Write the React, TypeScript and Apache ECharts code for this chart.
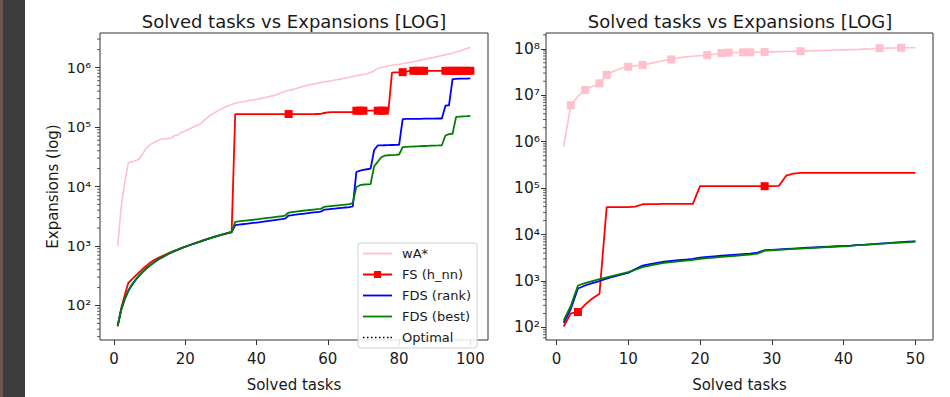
import React, { useEffect, useRef } from "react";
import * as echarts from "echarts";

const FONT = "DejaVu Sans";

// ---------- Left panel (100 tasks) ----------
const leftWa = [
  1000, 4500, 12000, 25000, 26000, 27000, 29000, 35000, 44000, 50000,
  54000, 58000, 62000, 63000, 64000, 65000, 72000, 74000, 82000, 86000,
  92000, 98000, 105000, 110000, 125000, 140000, 158000, 170000, 185000, 200000,
  215000, 228000, 240000, 250000, 258000, 264000, 270000, 278000, 285000, 292000,
  300000, 310000, 320000, 330000, 340000, 355000, 380000, 395000, 410000, 425000,
  440000, 460000, 480000, 500000, 515000, 530000, 545000, 560000, 575000, 585000,
  600000, 615000, 630000, 645000, 665000, 685000, 705000, 725000, 745000, 765000,
  785000, 820000, 880000, 960000, 1000000, 1030000, 1060000, 1090000, 1110000, 1130000,
  1160000, 1190000, 1220000, 1250000, 1290000, 1330000, 1370000, 1410000, 1450000, 1490000,
  1540000, 1590000, 1640000, 1690000, 1740000, 1820000, 1900000, 1990000, 2080000, 2200000,
];
const leftFs = [
  45, 90, 150, 240, 275, 315, 360, 410, 460, 520,
  570, 615, 655, 700, 745, 790, 835, 880, 930, 980,
  1030, 1080, 1130, 1180, 1240, 1300, 1360, 1420, 1480, 1540,
  1600, 1660, 1720, 165000, 165000, 165000, 165000, 165000, 165000, 165000,
  165000, 165000, 165000, 165000, 165000, 165000, 165000, 165000, 165000, 165000,
  165000, 165000, 165000, 165000, 165000, 165000, 165500, 166000, 172000, 176000,
  178000, 178000, 178000, 178000, 178000, 178000, 178000, 188000, 188000, 188000,
  188000, 188000, 188000, 188000, 188000, 188000, 188000, 820000, 830000, 830000,
  835000, 850000, 880000, 880000, 880000, 880000, 880000, 880000, 880000, 880000,
  880000, 880000, 880000, 880000, 880000, 880000, 880000, 880000, 880000, 880000,
];
const leftRank = [
  45, 84, 128, 175, 220, 265, 315, 365, 415, 465,
  515, 570, 620, 670, 720, 770, 820, 870, 920, 970,
  1020, 1070, 1120, 1170, 1230, 1290, 1350, 1410, 1470, 1530,
  1590, 1650, 1700, 2250, 2280, 2320, 2360, 2400, 2440, 2480,
  2520, 2570, 2620, 2670, 2720, 2770, 2820, 2880, 3250, 3300,
  3360, 3420, 3480, 3540, 3600, 3660, 3720, 3780, 4080, 4140,
  4200, 4260, 4320, 4380, 4440, 4500, 4650, 17500, 18500, 19000,
  19500, 20000, 41000, 49000, 49200, 49400, 49600, 49800, 50000, 50200,
  136000, 136500, 137000, 137000, 137500, 137500, 138000, 138000, 138500, 138500,
  139000, 139000, 228000, 232000, 640000, 645000, 648000, 650000, 652000, 655000,
];
const leftBest = [
  45, 85, 130, 180, 225, 270, 320, 370, 420, 470,
  520, 580, 630, 680, 730, 780, 830, 880, 930, 980,
  1030, 1080, 1130, 1180, 1240, 1300, 1360, 1420, 1480, 1540,
  1600, 1660, 1720, 2550, 2600, 2640, 2680, 2720, 2760, 2810,
  2860, 2910, 2960, 3010, 3060, 3110, 3160, 3250, 3650, 3720,
  3790, 3850, 3910, 3970, 4030, 4090, 4150, 4210, 4550, 4620,
  4690, 4760, 4830, 4900, 4970, 5040, 5250, 9800, 10500, 10800,
  10900, 11000, 22000, 26000, 31000, 33000, 33500, 33800, 34000, 34500,
  46000, 46500, 46800, 47000, 47300, 47600, 47900, 48200, 48500, 48800,
  49000, 49300, 72000, 76000, 77000, 148000, 150000, 151000, 152000, 154000,
];
const leftFsMarks = [49, 68, 69, 70, 74, 75, 76, 81, 84, 85, 86, 87, 93, 94, 95, 96, 97, 98, 99, 100];

// ---------- Right panel (50 tasks) ----------
const rightWa = [
  770000, 6100000, 9500000, 13000000, 15500000, 18000000, 27500000, 33000000, 38000000, 41000000,
  43000000, 45000000, 48000000, 52000000, 56000000, 59000000, 64000000, 67000000, 69000000, 71000000,
  73000000, 76000000, 81000000, 83000000, 83500000, 84000000, 84000000, 84500000, 85000000, 86000000,
  87000000, 87500000, 88000000, 89000000, 90000000, 91000000, 92000000, 93000000, 94000000, 95000000,
  96000000, 97000000, 98500000, 100000000, 103000000, 103500000, 104000000, 105000000, 105000000, 106000000,
];
const rightFs = [
  105, 200, 215, 310, 420, 530, 39000, 39000, 39000, 39000,
  40000, 45000, 45200, 45400, 45600, 45800, 46000, 46000, 46000, 110000,
  110000, 110000, 110000, 110000, 110000, 110000, 110000, 110000, 110000, 110000,
  112000, 185000, 205000, 212000, 212000, 212000, 212000, 212000, 212000, 212000,
  212000, 212000, 212000, 212000, 212000, 212000, 212000, 212000, 212000, 212000,
];
const rightRank = [
  125, 250, 690, 800, 900, 1000, 1120, 1250, 1380, 1500,
  1800, 2150, 2300, 2450, 2600, 2700, 2800, 2900, 3000, 3200,
  3300, 3400, 3500, 3600, 3700, 3800, 3900, 4100, 4600, 4700,
  4800, 4900, 5000, 5100, 5200, 5300, 5400, 5500, 5600, 5700,
  5800, 6000, 6100, 6250, 6400, 6550, 6700, 6850, 7000, 7150,
];
const rightBest = [
  140, 290, 800, 900, 1000, 1100, 1200, 1300, 1420, 1550,
  1750, 2000, 2150, 2300, 2450, 2550, 2650, 2750, 2850, 3000,
  3100, 3200, 3300, 3400, 3500, 3600, 3700, 3900, 4500, 4600,
  4700, 4800, 4900, 5000, 5100, 5200, 5300, 5400, 5500, 5600,
  5700, 5900, 6000, 6150, 6300, 6450, 6600, 6750, 6900, 7100,
];
const rightWaMarks = [2, 4, 6, 7, 10, 12, 16, 21, 23, 24, 26, 27, 29, 34, 45, 48];
const rightFsMarks = [3, 29];

// ---------- Axis ticks ----------
const leftXTicks = [0, 20, 40, 60, 80, 100];
const rightXTicks = [0, 10, 20, 30, 40, 50];
const leftYExps = [2, 3, 4, 5, 6];
const rightYExps = [2, 3, 4, 5, 6, 7, 8];
const SUP = ["⁰", "¹", "²", "³", "⁴", "⁵", "⁶", "⁷", "⁸", "⁹"];

const seriesNames = ["wA*", "FS (h_nn)", "FDS (rank)", "FDS (best)", "Optimal"];
const colors = ["#ffc0cb", "#ff0000", "#0000ff", "#008000", "#000000"];
const title = "Solved tasks vs Expansions [LOG]";

// legend glyphs (29 x 10 box, corner anchors keep the aspect)
const ANCH = "M0,0 L0,0 M29,10 L29,10 ";
const ICON_LINE = "path://" + ANCH + "M0,4.1 L29,4.1 L29,5.9 L0,5.9 Z";
const ICON_MARK = "path://" + ANCH + "M0,4.1 L11,4.1 L11,1.5 L18,1.5 L18,4.1 L29,4.1 L29,5.9 L18,5.9 L18,8.5 L11,8.5 L11,5.9 L0,5.9 Z";
const ICON_DOT =
  "path://" +
  ANCH +
  [0, 4, 8, 12, 16, 20, 24, 27.5].map((x) => `M${x},4.2 L${x + 1.5},4.2 L${x + 1.5},5.8 L${x},5.8 Z`).join(" ");
const legendIcons = [ICON_LINE, ICON_MARK, ICON_LINE, ICON_LINE, ICON_DOT];

const build = (vals: number[], marks?: number[]) =>
  vals.map((v, i) => {
    const x = i + 1;
    const item: any = { value: [x, Math.log10(v)] };
    if (marks) item.symbol = marks.includes(x) ? "rect" : "none";
    return item;
  });

const minorTicks = (lo: number, hi: number) => {
  const out: number[] = [];
  for (let n = 0; n <= 9; n++) {
    for (let k = 2; k <= 9; k++) {
      const lv = Math.log10(k) + n;
      if (lv > lo && lv < hi) out.push(lv);
    }
  }
  return out;
};

export default function App() {
  const ref = useRef<HTMLDivElement>(null);
  useEffect(() => {
    if (!ref.current) return;
    const chart = echarts.init(ref.current, undefined, { renderer: "svg" });

    const grids = [
      { left: 100, top: 33, width: 388, height: 322 },
      { left: 546, top: 33, width: 387, height: 321 },
    ];
    const xRanges = [
      { min: -3.95, max: 104.95, ticks: leftXTicks },
      { min: -1.45, max: 52.45, ticks: rightXTicks },
    ];
    const yRanges = [
      { min: 1.42, max: 6.58, ticks: leftYExps, size: 14.5, margin: 9 },
      { min: 1.73, max: 8.34, ticks: rightYExps, size: 15.5, margin: 6 },
    ];

    const axisColor = "#333";
    const textColor = "#1a1a1a";

    const xAxis = xRanges.map((r, i) => ({
      type: "value",
      gridIndex: i,
      min: r.min,
      max: r.max,
      axisLine: { show: false, onZero: false },
      axisTick: { show: true, length: 5, customValues: r.ticks, lineStyle: { color: axisColor, width: 1 } },
      axisLabel: {
        fontFamily: FONT,
        fontSize: 15,
        color: textColor,
        margin: 11,
        customValues: r.ticks,
        formatter: (v: number) => String(Math.round(v)),
      },
      splitLine: { show: false },
      name: "Solved tasks",
      nameLocation: "middle",
      nameGap: 37,
      nameTextStyle: { fontFamily: FONT, fontSize: 15, color: textColor },
    }));

    const yAxis = yRanges.map((r, i) => ({
      type: "value",
      gridIndex: i,
      min: r.min,
      max: r.max,
      axisLine: { show: false, onZero: false },
      axisTick: { show: true, length: 5, customValues: r.ticks, lineStyle: { color: axisColor, width: 1 } },
      axisLabel: {
        margin: r.margin,
        customValues: r.ticks,
        fontFamily: FONT,
        fontSize: r.size,
        color: textColor,
        padding: [3, 0, 0, 0],
        formatter: (v: number) => "10" + SUP[Math.round(v)],
      },
      splitLine: { show: false },
      name: i === 0 ? "Expansions (log)" : "",
      nameLocation: "middle",
      nameGap: 40,
      nameTextStyle: { fontFamily: FONT, fontSize: 15, color: textColor },
    }));

    const line = (
      name: string,
      color: string,
      width: number,
      data: any[],
      idx: number,
      marked: boolean,
      type: string = "solid"
    ) => ({
      type: "line",
      name,
      xAxisIndex: idx,
      yAxisIndex: idx,
      data,
      symbol: marked ? "rect" : "none",
      symbolSize: 8,
      showSymbol: marked,
      lineStyle: { color, width, type },
      itemStyle: { color },
      emphasis: { disabled: true },
      silent: true,
    });

    const minorSeries = (idx: number) => ({
      type: "custom",
      xAxisIndex: idx,
      yAxisIndex: idx,
      clip: false,
      silent: true,
      data: minorTicks(yRanges[idx].min, yRanges[idx].max).map((v) => [xRanges[idx].min, v]),
      renderItem: (params: any, api: any) => {
        const p = api.coord([api.value(0), api.value(1)]);
        return {
          type: "line",
          shape: { x1: p[0] - 3, y1: p[1], x2: p[0], y2: p[1] },
          style: { stroke: axisColor, lineWidth: 0.8 },
        };
      },
    });

    chart.setOption({
      animation: false,
      backgroundColor: "#ffffff",
      grid: grids.map((g) => ({
        ...g,
        show: true,
        borderColor: axisColor,
        borderWidth: 1,
        backgroundColor: "transparent",
        containLabel: false,
      })),
      xAxis,
      yAxis,
      legend: {
        data: seriesNames.map((n, i) => ({ name: n, icon: legendIcons[i], itemStyle: { color: colors[i] } })),
        orient: "vertical",
        left: 358,
        top: 243,
        itemWidth: 29,
        itemHeight: 10,
        itemGap: 8,
        padding: [4, 6, 4, 5],
        backgroundColor: "rgba(255,255,255,0.85)",
        borderColor: "#d0d0d0",
        borderWidth: 1,
        borderRadius: 3,
        selectedMode: false,
        textStyle: { fontFamily: FONT, fontSize: 13, color: textColor, padding: [0, 0, 0, 5] },
      },
      graphic: [
        { type: "rect", shape: { x: 0, y: 0, width: 25, height: 397 }, style: { fill: "#3d3d3d" }, z: 100 },
        { type: "rect", shape: { x: 0, y: 0, width: 3, height: 397 }, style: { fill: "#6e5753" }, z: 100 },
        {
          type: "text",
          x: 294,
          y: 21,
          style: { text: title, fontFamily: FONT, fontSize: 18, fill: textColor, textAlign: "center", textVerticalAlign: "middle" },
        },
        {
          type: "text",
          x: 740,
          y: 21,
          style: { text: title, fontFamily: FONT, fontSize: 18, fill: textColor, textAlign: "center", textVerticalAlign: "middle" },
        },
      ],
      series: [
        line(seriesNames[0], colors[0], 1.6, build(leftWa), 0, false),
        line(seriesNames[1], colors[1], 1.8, build(leftFs, leftFsMarks), 0, true),
        line(seriesNames[2], colors[2], 1.8, build(leftRank), 0, false),
        line(seriesNames[3], colors[3], 1.8, build(leftBest), 0, false),
        line(seriesNames[4], colors[4], 1.5, [], 0, false, "dotted"),
        line(seriesNames[0], colors[0], 1.6, build(rightWa, rightWaMarks), 1, true),
        line(seriesNames[1], colors[1], 1.8, build(rightFs, rightFsMarks), 1, true),
        line(seriesNames[2], colors[2], 1.8, build(rightRank), 1, false),
        line(seriesNames[3], colors[3], 1.8, build(rightBest), 1, false),
        minorSeries(0),
        minorSeries(1),
      ],
    });

    return () => chart.dispose();
  }, []);

  return (
    <div
      ref={ref}
      style={{ position: "fixed", left: 0, top: 0, width: 950, height: 397, background: "#fff" }}
    />
  );
}
